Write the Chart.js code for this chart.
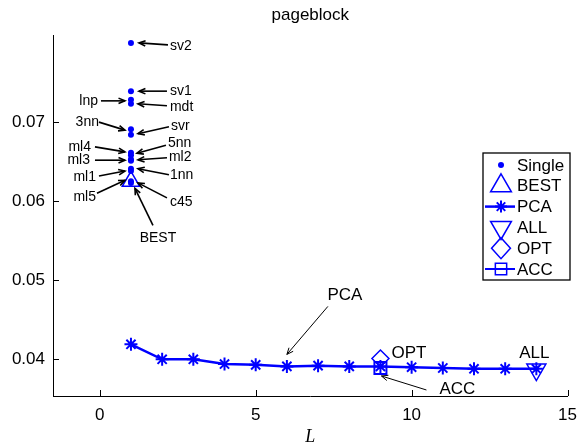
<!DOCTYPE html>
<html>
<head>
<meta charset="utf-8">
<script src="https://cdn.jsdelivr.net/npm/chart.js@4/dist/chart.umd.min.js"></script>
<style>
  html, body { margin: 0; padding: 0; background: #fff; }
  #wrap { width: 586px; height: 448px; }
</style>
</head>
<body>
<div id="wrap"><canvas id="pageChart"></canvas></div>
<script>
// single classifiers, all at L = 1
const singleNames = ["sv2", "sv1", "lnp", "mdt", "3nn", "svr", "ml4", "5nn", "ml3", "ml2", "1nn", "ml1", "ml5", "c45"];
const singleErr = [0.0800, 0.0739, 0.0728, 0.0723, 0.0691, 0.0684, 0.0661, 0.0658, 0.0653, 0.0651, 0.0641, 0.0638, 0.0625, 0.0623];

// PCA curve over L
const pcaL = [1, 2, 3, 4, 5, 6, 7, 8, 9, 10, 11, 12, 13, 14];
const pcaErr = [0.0419, 0.0400, 0.0400, 0.0394, 0.0393, 0.0391, 0.0392, 0.0391, 0.0391, 0.0390, 0.0389, 0.0388, 0.0388, 0.0388];

const bestPt = [1, 0.0625];
const allPt = [14, 0.0387];
const optPt = [9, 0.0401];
const accPt = [9, 0.0389];

const xTicks = [0, 5, 10, 15];
const yTicks = [0.04, 0.05, 0.06, 0.07];

const BLUE = "#0000ff";

// label, anchor point, text offset, arrow tail offset, arrow tip offset (px)
const notes = [
  { t: "sv2", at: [1, singleErr[0]], txt: [39, 3, "left"], tail: [37, 2], tip: [8, 0] },
  { t: "sv1", at: [1, singleErr[1]], txt: [39, 0, "left"], tail: [36, 0], tip: [8, 0] },
  { t: "lnp", at: [1, singleErr[2]], txt: [-33, 1, "right"], tail: [-30, 1], tip: [-6, 1] },
  { t: "mdt", at: [1, singleErr[3]], txt: [39, 3, "left"], tail: [36, 2], tip: [7, 0] },
  { t: "3nn", at: [1, singleErr[4]], txt: [-32, -7, "right"], tail: [-32, -7], tip: [-6, 1] },
  { t: "svr", at: [1, singleErr[5]], txt: [40, -9, "left"], tail: [38, -8], tip: [7, -1] },
  { t: "ml4", at: [1, singleErr[6]], txt: [-40, -6, "right"], tail: [-36, -6], tip: [-6, -1] },
  { t: "5nn", at: [1, singleErr[7]], txt: [37, -12, "left"], tail: [35, -10], tip: [6, -2] },
  { t: "ml3", at: [1, singleErr[8]], txt: [-41, 1, "right"], tail: [-36, 1], tip: [-6, 1] },
  { t: "ml2", at: [1, singleErr[9]], txt: [38, -4, "left"], tail: [36, -3], tip: [7, -1] },
  { t: "1nn", at: [1, singleErr[10]], txt: [39, 6, "left"], tail: [38, 6], tip: [7, 0] },
  { t: "ml1", at: [1, singleErr[11]], txt: [-35, 6, "right"], tail: [-32, 5], tip: [-6, 0] },
  { t: "ml5", at: [1, singleErr[12]], txt: [-35, 16, "right"], tail: [-34, 12], tip: [-6, -1] },
  { t: "c45", at: [1, singleErr[13]], txt: [39, 19, "left"], tail: [36, 15], tip: [7, 0] },
  { t: "BEST", at: bestPt, txt: [27, 57, "center"], tail: [22, 44], tip: [4, 7] },
  { t: "PCA", at: [pcaL[5], pcaErr[5]], txt: [58, -71, "center"], tail: [41, -60], tip: [0, -12], big: true },
  { t: "OPT", at: optPt, txt: [11, -5, "left"], big: true },
  { t: "ACC", at: accPt, txt: [59, 21, "left"], tail: [46, 22], tip: [1, 8], big: true },
  { t: "ALL", at: allPt, txt: [-2, -16, "center"], big: true }
];

const legendRows = [
  { t: "Single", style: "circle", r: 3, fill: true },
  { t: "BEST", style: "triangle", r: 12 },
  { t: "PCA", style: "star", r: 6, line: 2.5 },
  { t: "ALL", style: "triangle", r: 12, rot: 180 },
  { t: "OPT", style: "rectRot", r: 10.5 },
  { t: "ACC", style: "rect", r: 8, line: 2 }
];

function marker(ctx, style, x, y, r, rot, fill) {
  ctx.beginPath();
  if (style === "circle") {
    ctx.arc(x, y, r, 0, Math.PI * 2);
  } else if (style === "triangle") {
    let a = (rot || 0) * Math.PI / 180;
    for (let i = 0; i < 3; i++) {
      const px = x + Math.sin(a) * r, py = y - Math.cos(a) * r;
      if (i === 0) ctx.moveTo(px, py); else ctx.lineTo(px, py);
      a += Math.PI * 2 / 3;
    }
    ctx.closePath();
  } else if (style === "rectRot") {
    ctx.moveTo(x, y - r); ctx.lineTo(x + r * 0.9, y); ctx.lineTo(x, y + r); ctx.lineTo(x - r * 0.9, y);
    ctx.closePath();
  } else if (style === "rect") {
    const s = r * Math.SQRT1_2;
    ctx.rect(x - s, y - s, s * 2, s * 2);
  } else if (style === "star") {
    for (let k = 0; k < 4; k++) {
      const a = k * Math.PI / 4;
      ctx.moveTo(x - Math.cos(a) * r, y - Math.sin(a) * r);
      ctx.lineTo(x + Math.cos(a) * r, y + Math.sin(a) * r);
    }
  }
  if (fill) ctx.fill(); else ctx.stroke();
}

function arrow(ctx, x1, y1, x2, y2, lw) {
  ctx.lineWidth = lw;
  ctx.beginPath();
  ctx.moveTo(x1, y1);
  ctx.lineTo(x2, y2);
  ctx.stroke();
  const ang = Math.atan2(y2 - y1, x2 - x1), h = 7;
  ctx.beginPath();
  ctx.moveTo(x2 - h * Math.cos(ang - 0.4), y2 - h * Math.sin(ang - 0.4));
  ctx.lineTo(x2, y2);
  ctx.lineTo(x2 - h * Math.cos(ang + 0.4), y2 - h * Math.sin(ang + 0.4));
  ctx.stroke();
}

const extras = {
  id: "extras",
  afterDraw(chart) {
    const { ctx, chartArea: ca, scales: { x, y } } = chart;
    ctx.save();
    ctx.strokeStyle = "#000";
    ctx.fillStyle = "#000";

    // inward tick marks
    ctx.lineWidth = 1;
    ctx.beginPath();
    yTicks.forEach(v => {
      const py = Math.round(y.getPixelForValue(v)) + 0.5;
      ctx.moveTo(ca.left, py); ctx.lineTo(ca.left + 6, py);
    });
    xTicks.forEach(v => {
      const px = Math.round(x.getPixelForValue(v)) + 0.5;
      ctx.moveTo(px, ca.bottom); ctx.lineTo(px, ca.bottom - 6);
    });
    ctx.stroke();

    // title
    ctx.font = "17px 'Liberation Sans', Arial, sans-serif";
    ctx.textAlign = "center";
    ctx.textBaseline = "middle";
    ctx.fillText("pageblock", (ca.left + ca.right) / 2, 15);

    // annotations
    notes.forEach(n => {
      const px = x.getPixelForValue(n.at[0]), py = y.getPixelForValue(n.at[1]);
      ctx.font = (n.big ? "17px" : "14px") + " 'Liberation Sans', Arial, sans-serif";
      ctx.textAlign = n.txt[2];
      ctx.textBaseline = "middle";
      ctx.fillText(n.t, px + n.txt[0], py + n.txt[1]);
      if (n.tail) arrow(ctx, px + n.tail[0], py + n.tail[1], px + n.tip[0], py + n.tip[1], n.big ? 1 : 1.6);
    });

    // legend
    const lx = 483, ly = 153, lw = 87, lh = 127;
    ctx.fillStyle = "#fff";
    ctx.fillRect(lx, ly, lw, lh);
    ctx.lineWidth = 1.3;
    ctx.strokeRect(lx, ly, lw, lh);
    ctx.font = "17px 'Liberation Sans', Arial, sans-serif";
    ctx.textAlign = "left";
    legendRows.forEach((row, i) => {
      const ry = 165 + i * 20.8, mx = 501;
      ctx.strokeStyle = BLUE;
      ctx.fillStyle = BLUE;
      if (row.line) {
        ctx.lineWidth = row.line;
        ctx.beginPath(); ctx.moveTo(lx + 2, ry); ctx.lineTo(lx + 32, ry); ctx.stroke();
      }
      ctx.lineWidth = row.style === "star" ? 2 : 1.5;
      marker(ctx, row.style, mx, ry, row.r, row.rot, row.fill);
      ctx.fillStyle = "#000";
      ctx.fillText(row.t, 517, ry + 1);
    });
    ctx.restore();
  }
};

new Chart(document.getElementById("pageChart"), {
  type: "scatter",
  data: {
    datasets: [
      {
        label: "Single",
        data: singleErr.map(v => ({ x: 1, y: v })),
        pointStyle: "circle",
        pointRadius: 3,
        backgroundColor: BLUE,
        borderWidth: 0
      },
      {
        label: "BEST",
        data: [{ x: bestPt[0], y: bestPt[1] }],
        pointStyle: "triangle",
        pointRadius: 10,
        borderColor: BLUE,
        backgroundColor: "rgba(0,0,0,0)",
        borderWidth: 1.5
      },
      {
        label: "PCA",
        data: pcaL.map((l, i) => ({ x: l, y: pcaErr[i] })),
        showLine: true,
        borderColor: BLUE,
        backgroundColor: BLUE,
        borderWidth: 2.5,
        pointStyle: "star",
        pointRadius: 6.5,
        pointBorderWidth: 2
      },
      {
        label: "ALL",
        data: [{ x: allPt[0], y: allPt[1] }],
        pointStyle: "triangle",
        rotation: 180,
        pointRadius: 11,
        borderColor: BLUE,
        backgroundColor: "rgba(0,0,0,0)",
        borderWidth: 1.5
      },
      {
        label: "OPT",
        data: [{ x: optPt[0], y: optPt[1] }],
        pointStyle: "rectRot",
        pointRadius: 8.5,
        borderColor: BLUE,
        backgroundColor: "rgba(0,0,0,0)",
        borderWidth: 1.5
      },
      {
        label: "ACC",
        data: [{ x: accPt[0], y: accPt[1] }],
        pointStyle: "rect",
        pointRadius: 8.5,
        borderColor: BLUE,
        backgroundColor: "rgba(0,0,0,0)",
        borderWidth: 2
      }
    ]
  },
  options: {
    responsive: true,
    maintainAspectRatio: false,
    animation: false,
    layout: { padding: { top: 35, right: 11, left: 0, bottom: 0 } },
    plugins: { legend: { display: false }, tooltip: { enabled: false } },
    scales: {
      x: {
        type: "linear",
        min: -1.5,
        max: 15,
        afterBuildTicks: s => { s.ticks = xTicks.map(v => ({ value: v })); },
        afterFit: s => { s.height = 52; },
        grid: { display: false, drawTicks: false },
        border: { display: true, color: "#000", width: 1 },
        ticks: { color: "#000", padding: 9, font: { size: 17, family: "'Liberation Sans', Arial, sans-serif" } },
        title: {
          display: true,
          text: "L",
          color: "#000",
          padding: { top: 0, bottom: 0 },
          font: { size: 18, style: "italic", family: "'Liberation Serif', 'Times New Roman', serif" }
        }
      },
      y: {
        type: "linear",
        min: 0.03536,
        max: 0.0810,
        afterBuildTicks: s => { s.ticks = yTicks.map(v => ({ value: v })); },
        afterFit: s => { s.width = 53; },
        grid: { display: false, drawTicks: false },
        border: { display: true, color: "#000", width: 1 },
        ticks: {
          color: "#000",
          padding: 8,
          callback: v => v.toFixed(2),
          font: { size: 17, family: "'Liberation Sans', Arial, sans-serif" }
        }
      }
    }
  },
  plugins: [extras]
});
</script>
</body>
</html>
